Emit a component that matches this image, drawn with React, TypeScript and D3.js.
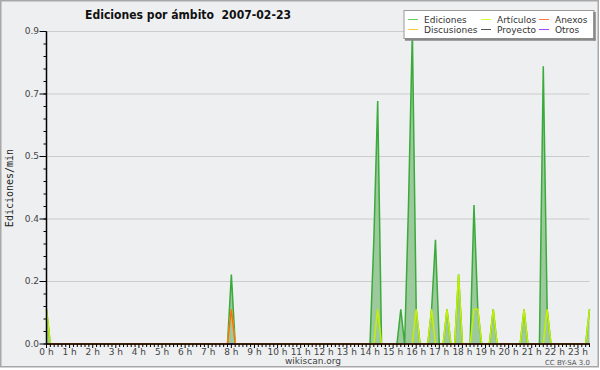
import React from 'react';
import * as d3 from 'd3';

const title = 'Ediciones por ámbito  2007-02-23';
const yAxisLabel = 'Ediciones/min';
const footerCenter = 'wikiscan.org';
const footerRight = 'CC BY-SA 3.0';

// time axis (minutes since midnight), 10-minute bins
const binStep = 10;
const lastMinute = 1410;
const hourLabels = ['0 h','1 h','2 h','3 h','4 h','5 h','6 h','7 h','8 h','9 h','10 h','11 h','12 h','13 h','14 h','15 h','16 h','17 h','18 h','19 h','20 h','21 h','22 h','23 h'];

// y axis
const yMax = 0.9;
const yTickValues = [0, 0.18, 0.36, 0.54, 0.72, 0.9];
const yTickLabels = ['0.0', '0.2', '0.4', '0.5', '0.7', '0.9'];

// series (non-zero bins; all other bins are 0)
const edicionesMin = [0, 480, 850, 860, 920, 940, 950, 960, 1000, 1010, 1040, 1070, 1110, 1120, 1160, 1240, 1290, 1300, 1410];
const edicionesVal = [0.1, 0.2, 0.3, 0.7, 0.1, 0.4, 0.9, 0.1, 0.1, 0.3, 0.1, 0.2, 0.4, 0.1, 0.1, 0.1, 0.8, 0.1, 0.1];
const articulosMin = [0, 480, 860, 960, 1000, 1040, 1070, 1110, 1120, 1160, 1240, 1300, 1410];
const articulosVal = [0.1, 0.1, 0.1, 0.1, 0.1, 0.1, 0.2, 0.1, 0.1, 0.1, 0.1, 0.1, 0.1];
const anexosMin = [480];
const anexosVal = [0.1];
const discusionesMin: number[] = [];
const discusionesVal: number[] = [];
const proyectoMin: number[] = [];
const proyectoVal: number[] = [];
const otrosMin: number[] = [];
const otrosVal: number[] = [];

const legendNames = ['Ediciones', 'Artículos', 'Anexos', 'Discusiones', 'Proyecto', 'Otros'];
const legendColors = ['#66cc66', '#ccff33', '#ff7744', '#ffcc33', '#555555', '#aa44ff'];

type Pt = { t: number; v: number };
function buildSeries(mins: number[], vals: number[]): Pt[] {
  const m = new Map<number, number>();
  mins.forEach((t, i) => m.set(t, vals[i]));
  return d3.range(0, lastMinute + 1, binStep).map((t) => ({ t, v: m.get(t) ?? 0 }));
}

const W = 600, H = 370;
const left = 46.5, right = 589.5, top = 31.5, bottom = 344;
const FONT = 'DejaVu Sans, sans-serif';

export default function App() {
  const x = d3.scaleLinear().domain([0, lastMinute]).range([left, right]);
  const y = d3.scaleLinear().domain([0, yMax]).range([bottom, top]);

  const ediciones = buildSeries(edicionesMin, edicionesVal);
  const others = [
    { data: buildSeries(discusionesMin, discusionesVal), color: '#ffcc33' },
    { data: buildSeries(proyectoMin, proyectoVal), color: '#555555' },
    { data: buildSeries(otrosMin, otrosVal), color: '#aa44ff' },
    { data: buildSeries(articulosMin, articulosVal), color: '#c4f000' },
    { data: buildSeries(anexosMin, anexosVal), color: '#ff6a1a' },
  ];

  const line = d3.line<Pt>().x((d) => x(d.t)).y((d) => y(d.v));
  const area = d3.area<Pt>().x((d) => x(d.t)).y0(y(0)).y1((d) => y(d.v));

  const minorY = d3.range(0, 26).map((i) => i * 0.036).filter((v) => v <= yMax + 1e-9);
  const minorX = d3.range(0, lastMinute + 1, binStep);

  const legendRows = [0, 1];
  const legendCols = [0, 1, 2];
  const colX = [408, 481, 539];
  const rowY = [19.5, 29.5];

  return (
    <svg width={W} height={H} style={{ position: 'absolute', left: 0, top: 0 }} fontFamily={FONT}>
      <rect x={0} y={0} width={W} height={H} fill="#ffffff" />
      <rect x={0.75} y={0.75} width={597.5} height={366} fill="#eeeff1" stroke="#a8a8a8" strokeWidth={1.5} />

      {/* grid */}
      {yTickValues.map((v, i) => (
        <line key={'g' + i} x1={left} x2={right} y1={y(v)} y2={y(v)} stroke="#cccccc" strokeWidth={1} />
      ))}

      {/* series */}
      <path d={area(ediciones) || ''} fill="#9dca9d" stroke="none" />
      <path d={line(ediciones) || ''} fill="none" stroke="#3aaa3a" strokeWidth={1.5} />
      {others.map((s, i) => (
        <path key={'s' + i} d={line(s.data) || ''} fill="none" stroke={s.color} strokeWidth={1.5} />
      ))}

      {/* y axis */}
      <line x1={left} x2={left} y1={top} y2={bottom} stroke="#000" strokeWidth={1.5} />
      {minorY.map((v, i) => (
        <line key={'my' + i} x1={left - 3} x2={left} y1={y(v)} y2={y(v)} stroke="#000" strokeWidth={1} />
      ))}
      {yTickValues.map((v, i) => (
        <g key={'yt' + i}>
          <line x1={left - 7} x2={left} y1={y(v)} y2={y(v)} stroke="#000" strokeWidth={1} />
          <text x={left - 7.5} y={y(v)} dy="0.32em" textAnchor="end" fontSize={9} fill="#444">{yTickLabels[i]}</text>
        </g>
      ))}

      {/* x axis */}
      <line x1={left} x2={right + 0.5} y1={bottom} y2={bottom} stroke="#000" strokeWidth={1.5} />
      {minorX.map((t, i) => (
        <line key={'mx' + i} x1={x(t)} x2={x(t)} y1={bottom} y2={bottom + (t % 60 === 0 ? 4 : 3)} stroke="#000" strokeWidth={1} />
      ))}
      {hourLabels.map((lab, i) => (
        <text key={'xl' + i} x={x(i * 60)} y={354.5} textAnchor="middle" fontSize={9} fill="#444">{lab}</text>
      ))}

      {/* axis title */}
      <text transform={`translate(13,${188}) rotate(-90)`} textAnchor="middle" fontSize={10} fontFamily="DejaVu Sans Mono, monospace" fill="#222">{yAxisLabel}</text>

      {/* title */}
      <text x={85} y={18.5} fontSize={12} fontWeight="bold" fill="#111" textLength={206} lengthAdjust="spacingAndGlyphs" style={{ whiteSpace: 'pre' }}>{title}</text>

      {/* footer */}
      <text x={313} y={364} textAnchor="middle" fontSize={9} fill="#444">{footerCenter}</text>
      <text x={590} y={365} textAnchor="end" fontSize={7} fill="#555">{footerRight}</text>

      {/* legend */}
      <rect x={404} y={10.5} width={190} height={28} fill="#ffffff" stroke="#999" strokeWidth={1} />
      <line x1={594.5} x2={594.5} y1={12} y2={40.5} stroke="#888" strokeWidth={2.5} />
      <line x1={405} x2={595.5} y1={39.5} y2={39.5} stroke="#888" strokeWidth={2.5} />
      {legendRows.map((r) =>
        legendCols.map((c) => {
          const idx = r * 3 + c;
          return (
            <g key={'lg' + idx}>
              <line x1={colX[c]} x2={colX[c] + 10} y1={rowY[r]} y2={rowY[r]} stroke={legendColors[idx]} strokeWidth={1} />
              <text x={colX[c] + 16} y={rowY[r]} dy="0.35em" fontSize={9} fill="#333">{legendNames[idx]}</text>
            </g>
          );
        })
      )}
    </svg>
  );
}
